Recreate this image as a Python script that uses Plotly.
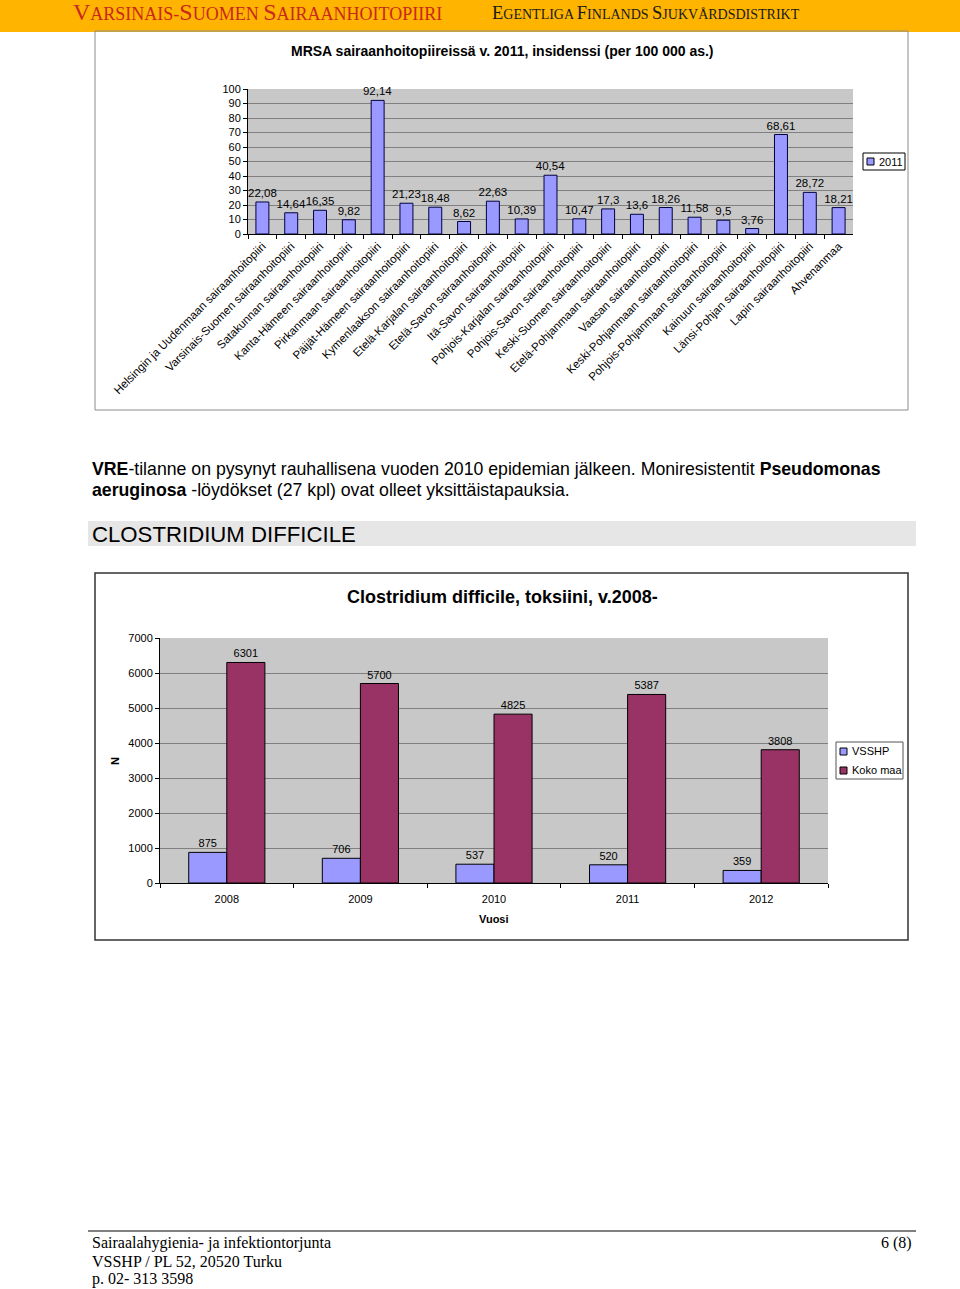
import plotly.graph_objects as go

W, H = 960, 1289

# ---------------- Data ----------------
mrsa_districts = [
    "Helsingin ja Uudenmaan sairaanhoitopiiri",
    "Varsinais-Suomen sairaanhoitopiiri",
    "Satakunnan sairaanhoitopiiri",
    "Kanta-Hämeen sairaanhoitopiiri",
    "Pirkanmaan sairaanhoitopiiri",
    "Päijät-Hämeen sairaanhoitopiiri",
    "Kymenlaakson sairaanhoitopiiri",
    "Etelä-Karjalan sairaanhoitopiiri",
    "Etelä-Savon sairaanhoitopiiri",
    "Itä-Savon sairaanhoitopiiri",
    "Pohjois-Karjalan sairaanhoitopiiri",
    "Pohjois-Savon sairaanhoitopiiri",
    "Keski-Suomen sairaanhoitopiiri",
    "Etelä-Pohjanmaan sairaanhoitopiiri",
    "Vaasan sairaanhoitopiiri",
    "Keski-Pohjanmaan sairaanhoitopiiri",
    "Pohjois-Pohjanmaan sairaanhoitopiiri",
    "Kainuun sairaanhoitopiiri",
    "Länsi-Pohjan sairaanhoitopiiri",
    "Lapin sairaanhoitopiiri",
    "Ahvenanmaa",
]
mrsa_2011 = [22.08, 14.64, 16.35, 9.82, 92.14, 21.23, 18.48, 8.62, 22.63, 10.39,
             40.54, 10.47, 17.3, 13.6, 18.26, 11.58, 9.5, 3.76, 68.61, 28.72, 18.21]
mrsa_series = "2011"
mrsa_yticks = [0, 10, 20, 30, 40, 50, 60, 70, 80, 90, 100]

cd_years = ["2008", "2009", "2010", "2011", "2012"]
cd_vsshp = [875, 706, 537, 520, 359]
cd_koko_maa = [6301, 5700, 4825, 5387, 3808]
cd_series = ["VSSHP", "Koko maa"]
cd_yticks = [0, 1000, 2000, 3000, 4000, 5000, 6000, 7000]

# ---------------- Helpers ----------------
def px(x):
    return x / W

def py(y):
    return 1 - y / H

SANS = "Liberation Sans, Arial, sans-serif"
SERIF = "Liberation Serif, Times New Roman, serif"
BLUE = "#9999FF"
PLUM = "#993366"

fig = go.Figure()

# Chart 1: MRSA
fig.add_trace(go.Bar(
    x=mrsa_districts, y=mrsa_2011, name=mrsa_series,
    marker=dict(color=BLUE, line=dict(color="#000040", width=1)),
    width=0.45,
    text=[f"{v:g}".replace(".", ",") for v in mrsa_2011],
    textposition="outside", constraintext="none", cliponaxis=False,
    textfont=dict(family=SANS, size=11.5, color="#000"),
    xaxis="x", yaxis="y", showlegend=False,
))

# Chart 2: Clostridium difficile
fig.add_trace(go.Bar(
    x=cd_years, y=cd_vsshp, name=cd_series[0],
    marker=dict(color=BLUE, line=dict(color="#000", width=1)),
    offset=-0.285, width=0.285,
    text=[str(v) for v in cd_vsshp],
    textposition="outside", constraintext="none", cliponaxis=False,
    textfont=dict(family=SANS, size=11, color="#000"),
    xaxis="x2", yaxis="y2", showlegend=False,
))
fig.add_trace(go.Bar(
    x=cd_years, y=cd_koko_maa, name=cd_series[1],
    marker=dict(color=PLUM, line=dict(color="#000", width=1)),
    offset=0, width=0.285,
    text=[str(v) for v in cd_koko_maa],
    textposition="outside", constraintext="none", cliponaxis=False,
    textfont=dict(family=SANS, size=11, color="#000"),
    xaxis="x2", yaxis="y2", showlegend=False,
))

axis_common = dict(showline=True, linecolor="#000", linewidth=1, ticks="outside",
                   ticklen=4, tickcolor="#000", automargin=False,
                   tickfont=dict(family=SANS, size=11, color="#000"))

fig.update_layout(
    width=W, height=H,
    margin=dict(l=0, r=0, t=0, b=0, pad=0, autoexpand=False),
    paper_bgcolor="white", plot_bgcolor="#C8C8C8",
    barmode="overlay", showlegend=False,
    xaxis=dict(domain=[px(248), px(853)], anchor="y", tickangle=-45,
               tickson="boundaries", showgrid=False, **{**axis_common,
               "tickfont": dict(family=SANS, size=11.5, color="#000")}),
    yaxis=dict(domain=[py(234), py(89)], anchor="x", range=[0, 100],
               tickvals=mrsa_yticks, showgrid=True, gridcolor="#808080",
               gridwidth=1, zeroline=False, **axis_common),
    xaxis2=dict(domain=[px(160), px(828)], anchor="y2", ticklabelstandoff=6,
                tickson="boundaries", showgrid=False, **axis_common),
    yaxis2=dict(domain=[py(883), py(638)], anchor="x2", range=[0, 7000],
                tickvals=cd_yticks, showgrid=True, gridcolor="#808080",
                gridwidth=1, zeroline=False, **axis_common),
)

def rect(x0, y0, x1, y1, fill="rgba(0,0,0,0)", line_color=None, lw=1, layer="above"):
    return dict(type="rect", xref="paper", yref="paper",
                x0=px(x0), x1=px(x1), y0=py(y1), y1=py(y0),
                fillcolor=fill,
                line=dict(color=line_color or "rgba(0,0,0,0)", width=lw if line_color else 0),
                layer=layer)

shapes = [
    rect(0, 0, 960, 32, fill="#FFB400", layer="below"),          # header band
    rect(95, 31, 908, 410, line_color="#8C8C8C", lw=1),          # chart 1 box
    rect(88, 521, 916, 546, fill="#E6E6E6", layer="below"),       # heading band
    rect(95, 573, 908, 940, line_color="#333333", lw=1.5),       # chart 2 box
    dict(type="line", xref="paper", yref="paper", x0=px(88), x1=px(916),
         y0=py(1231), y1=py(1231), line=dict(color="#000", width=1)),
    # legend 1
    rect(863, 153, 905, 170, fill="white", line_color="#000", lw=1),
    rect(867, 158, 874, 165, fill=BLUE, line_color="#000", lw=1),
    # legend 2
    rect(836, 742, 903, 779, fill="white", line_color="#555", lw=1),
    rect(840, 748, 847, 755, fill=BLUE, line_color="#000", lw=1),
    rect(840, 767, 847, 774, fill=PLUM, line_color="#000", lw=1),
]
fig.update_layout(shapes=shapes)

def ann(text, x, y, size, xanchor="left", family=SANS, color="#000", **kw):
    return dict(text=text, x=px(x), y=py(y), xref="paper", yref="paper",
                xanchor=xanchor, yanchor="middle", showarrow=False,
                font=dict(family=family, size=size, color=color), **kw)

def smallcaps(words, big, small):
    out = []
    for w in words.split(" "):
        parts = []
        for seg in w.split("-"):
            if seg:
                parts.append(f"<span style='font-size:{big}px'>{seg[0]}</span>{seg[1:]}")
            else:
                parts.append("")
        out.append("-".join(parts))
    return " ".join(out)

annotations = [
    ann(smallcaps("VARSINAIS-SUOMEN SAIRAANHOITOPIIRI", 24, 18), 71, 12, 18,
        family=SERIF, color="#C8281E"),
    ann(smallcaps("EGENTLIGA FINLANDS SJUKVÅRDSDISTRIKT", 18.5, 14), 490, 13, 14,
        family=SERIF, color="#1A1A1A"),
    ann("<b>MRSA sairaanhoitopiireissä v. 2011, insidenssi (per 100 000 as.)</b>",
        502, 51, 14, xanchor="center"),
    ann("<b>VRE</b>-tilanne on pysynyt rauhallisena vuoden 2010 epidemian jälkeen. "
        "Moniresistentit <b>Pseudomonas</b>", 90, 469, 17.7),
    ann("<b>aeruginosa</b> -löydökset (27 kpl) ovat olleet yksittäistapauksia.",
        90, 490, 17.7),
    ann("CLOSTRIDIUM DIFFICILE", 90, 534, 22.2),
    ann("<b>Clostridium difficile, toksiini, v.2008-</b>", 502, 597, 18,
        xanchor="center"),
    ann("<b>N</b>", 115, 761, 11, xanchor="center", textangle=-90),
    ann("<b>Vuosi</b>", 494, 919, 11, xanchor="center"),
    # legend texts
    ann(mrsa_series, 877, 162, 11),
    ann(cd_series[0], 850, 751, 11),
    ann(cd_series[1], 850, 770, 11),
    # footer
    ann("Sairaalahygienia- ja infektiontorjunta", 90, 1243, 16, family=SERIF),
    ann("VSSHP / PL 52, 20520 Turku", 90, 1261, 16, family=SERIF),
    ann("p. 02- 313 3598", 90, 1279, 16, family=SERIF),
    ann("6 (8)", 914, 1243, 16, xanchor="right", family=SERIF),
]
fig.update_layout(annotations=annotations)

fig.write_html("out.html")
